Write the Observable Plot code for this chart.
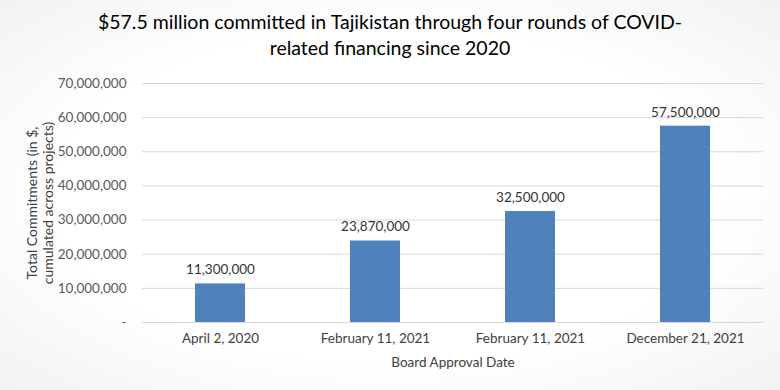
<!DOCTYPE html>
<html>
<head>
<meta charset="utf-8">
<script src="https://cdn.jsdelivr.net/npm/d3@7"></script>
<script src="https://cdn.jsdelivr.net/npm/@observablehq/plot@0.6"></script>
<style>
  html, body { margin: 0; padding: 0; }
  body { width: 780px; height: 390px; overflow: hidden; font-family: Lato, "Open Sans", sans-serif;
         background: radial-gradient(ellipse at center, #ffffff 60%, #f2f2f2 100%); }
  #title { height: 62px; box-sizing: border-box; padding-top: 9px; text-align: center; font-size: 19.5px; line-height: 26px; color: #000; }
  #chart svg { background: transparent; display: block; }
</style>
</head>
<body>
<div id="title">$57.5 million committed in Tajikistan through four rounds of COVID-<br>related financing since 2020</div>
<div id="chart"></div>
<script>
const categories = ["April 2, 2020", "February 11, 2021", "February 11, 2021", "December 21, 2021"];
const values = [11300000, 23870000, 32500000, 57500000];
const yTicks = [0, 10000000, 20000000, 30000000, 40000000, 50000000, 60000000, 70000000];
const yTitle = "Total Commitments (in $,\ncumulated across projects)";
const xTitle = "Board Approval Date";

const data = values.map((v, i) => ({i, cat: categories[i], value: v}));
const fmt = d3.format(",");

const plot = Plot.plot({
  width: 780,
  height: 328,
  marginTop: 21,
  marginBottom: 68,
  marginLeft: 142,
  marginRight: 17,
  style: {fontFamily: "Lato, 'Open Sans', sans-serif", fontSize: "13px", color: "#404040", background: "transparent"},
  x: {domain: data.map(d => d.i), paddingInner: 0.68, paddingOuter: 0.34, label: null, axis: null},
  y: {domain: [0, 70000000], label: null, axis: null},
  marks: [
    Plot.gridY(yTicks, {stroke: "#d9d9d9", strokeOpacity: 1, strokeWidth: 1}),
    Plot.axisY(yTicks, {tickSize: 0, tickPadding: 16, tickFormat: d => d === 0 ? "-" : fmt(d), fill: "#595959", fontSize: 13.5}),
    Plot.barY(data, {x: "i", y: "value", fill: "#4f81bd"}),
    Plot.text(data, {x: "i", y: "value", text: d => fmt(d.value), dy: -14, fill: "#333333", fontSize: 13.5}),
    Plot.axisX({tickSize: 0, tickPadding: 11, tickFormat: i => categories[i], fill: "#404040", fontSize: 13.5, label: null}),
    Plot.text([xTitle], {frameAnchor: "bottom", lineAnchor: "middle", textAnchor: "middle", dy: 40, fill: "#404040", fontSize: 13.5}),
    Plot.text([yTitle], {frameAnchor: "left", textAnchor: "middle", lineAnchor: "middle", rotate: -90, dx: -103, fill: "#404040", fontSize: 14, lineHeight: 1.15})
  ]
});
document.getElementById("chart").appendChild(plot);
</script>
</body>
</html>
